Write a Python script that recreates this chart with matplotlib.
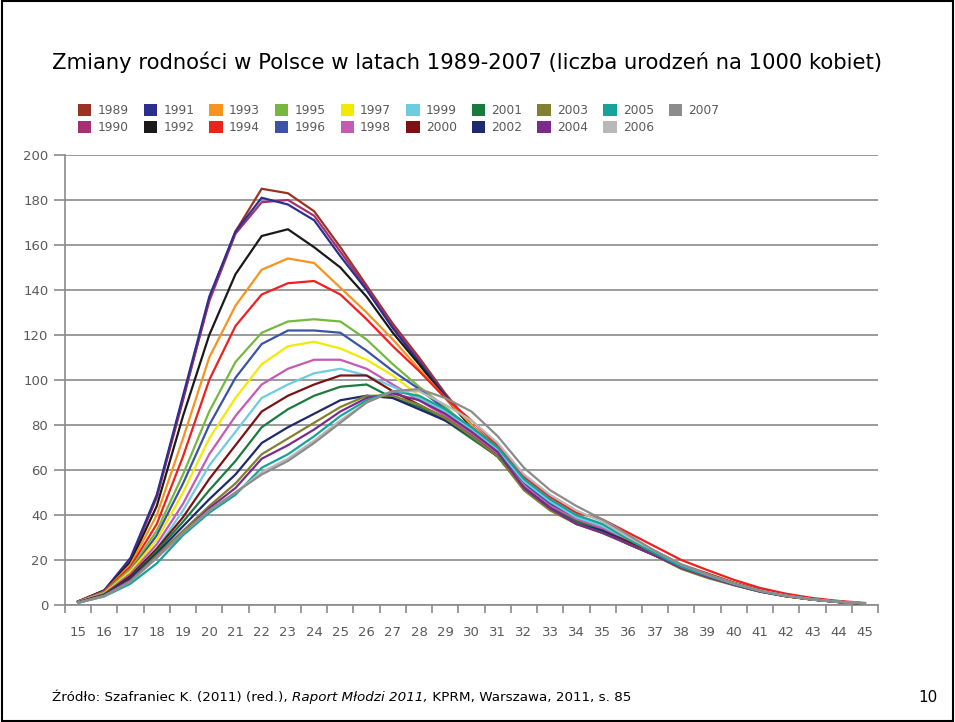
import matplotlib
matplotlib.use("Agg")
import matplotlib.pyplot as plt
from matplotlib.patches import Patch, Rectangle

ages = list(range(15, 46))
years = [1989, 1990, 1991, 1992, 1993, 1994, 1995, 1996, 1997, 1998,
         1999, 2000, 2001, 2002, 2003, 2004, 2005, 2006, 2007]
colors = ['#9b3322', '#a33070', '#2e2e8f', '#1a1a1a', '#f7931e', '#ee2020',
          '#76b83f', '#3a53a4', '#f2ea00', '#c45ab3', '#6ccde0', '#7a1216',
          '#1b7a3e', '#1f2a6e', '#808030', '#7a2b8b', '#15a39a', '#b8b8b8',
          '#8c8c8c']

# births per 1000 women, ages 15..45
y1989 = [1.6, 6.5, 20, 48, 91, 136, 166, 185, 183, 175, 159, 142, 125, 110, 94, 80, 70, 56, 46, 39, 35, 29, 24, 18, 14, 10, 6.8, 4.4, 2.7, 1.5, 0.7]
y1990 = [1.6, 6.5, 20, 48, 92, 135, 165, 179, 180, 173, 157, 141, 124, 109, 93, 80, 69, 55, 46, 39, 35, 29, 23, 17.5, 13.5, 9.7, 6.6, 4.3, 2.6, 1.5, 0.7]
y1991 = [1.5, 6.5, 21, 49, 93, 137, 166, 181, 178, 171, 155, 140, 123, 108, 93, 79, 69, 55, 45, 38, 34, 28, 23, 17, 13, 9.5, 6.4, 4.2, 2.6, 1.4, 0.7]
y1992 = [1.5, 6.3, 19, 44, 84, 120, 147, 164, 167, 159, 150, 137, 121, 107, 92, 79, 69, 55, 46, 39, 35, 29, 23, 17.5, 13.5, 9.7, 6.5, 4.2, 2.6, 1.4, 0.7]
y1993 = [1.5, 6.0, 18, 40, 74, 110, 133, 149, 154, 152, 141, 130, 118, 105, 92, 80, 69, 55, 46, 39, 35, 29, 23, 17.5, 13.5, 9.7, 6.5, 4.2, 2.6, 1.4, 0.7]
y1994 = [1.5, 6.0, 17, 36, 66, 100, 124, 138, 143, 144, 138, 127, 115, 104, 92, 82, 71, 57, 48, 41, 38, 32, 26, 20, 15.5, 11.2, 7.6, 5.0, 3.1, 1.8, 0.9]
y1995 = [1.4, 5.7, 16, 33, 58, 86, 108, 121, 126, 127, 126, 118, 107, 97, 88, 78, 68, 54, 45, 38, 34, 28, 22.5, 17, 13, 9.4, 6.3, 4.1, 2.5, 1.4, 0.7]
y1996 = [1.4, 5.5, 15, 31, 54, 80, 101, 116, 122, 122, 121, 113, 104, 96, 87, 78, 68, 54, 45, 38, 34, 28, 22.5, 17, 13, 9.4, 6.3, 4.1, 2.5, 1.4, 0.7]
y1997 = [1.3, 5.3, 15, 29, 50, 74, 92, 107, 115, 117, 114, 109, 102, 93, 85, 76, 66, 53, 43, 37, 33, 27, 22, 16.5, 12.5, 9.2, 6.1, 4.0, 2.5, 1.4, 0.7]
y1998 = [1.3, 5.0, 14, 27, 45, 67, 84, 98, 105, 109, 109, 105, 98, 91, 84, 76, 67, 53, 44, 38, 34, 28, 22.5, 17, 13, 9.3, 6.2, 4.0, 2.5, 1.4, 0.7]
y1999 = [1.2, 4.8, 13, 25, 42, 62, 77, 92, 98, 103, 105, 102, 97, 92, 86, 78, 69, 55, 46, 39, 35, 29, 23, 17.5, 13, 9.5, 6.3, 4.1, 2.5, 1.4, 0.7]
y2000 = [1.2, 4.7, 13, 25, 39, 56, 71, 86, 93, 98, 102, 102, 95, 89, 83, 75, 66, 52, 43, 37, 33, 28, 22, 16.5, 12.5, 9.1, 6.1, 3.9, 2.4, 1.3, 0.6]
y2001 = [1.1, 4.5, 12, 24, 37, 51, 64, 79, 87, 93, 97, 98, 92, 88, 82, 74, 66, 52, 43, 37, 33, 27, 22, 16.5, 12.5, 9.0, 6.0, 3.9, 2.4, 1.3, 0.6]
y2002 = [1.1, 4.4, 12, 23, 35, 47, 58, 72, 79, 85, 91, 93, 92, 87, 82, 75, 66, 52, 43, 36, 33, 27, 22, 16.5, 12.5, 9.0, 6.0, 3.9, 2.4, 1.3, 0.6]
y2003 = [1.0, 4.2, 11, 22, 33, 44, 54, 67, 74, 81, 88, 93, 93, 89, 83, 75, 66, 51, 42, 36, 32, 27, 22, 16, 12, 8.8, 5.9, 3.8, 2.4, 1.3, 0.6]
y2004 = [1.0, 4.1, 11, 21, 32, 43, 52, 65, 71, 78, 86, 92, 94, 91, 85, 77, 68, 52, 43, 36, 32, 27, 22, 16.5, 12.5, 9.0, 6.0, 3.9, 2.4, 1.3, 0.6]
y2005 = [1.0, 3.8, 9.5, 18.5, 31, 41, 49, 61, 67, 75, 84, 91, 95, 93, 87, 79, 70, 56, 47, 40, 36, 29, 23, 17, 13, 9.3, 6.2, 4.0, 2.5, 1.4, 0.7]
y2006 = [1.0, 4.0, 10.5, 21, 32, 42, 50, 59, 65, 73, 82, 90, 95, 95, 89, 82, 72, 58, 49, 42, 37, 30, 24, 18, 13.5, 9.6, 6.4, 4.1, 2.5, 1.4, 0.7]
y2007 = [1.0, 4.0, 10.5, 21, 32, 42, 50, 58, 64, 72, 81, 90, 95, 96, 92, 86, 75, 61, 51, 44, 38, 31, 24, 18, 13.5, 9.6, 6.4, 4.1, 2.5, 1.4, 0.7]

series = [y1989, y1990, y1991, y1992, y1993, y1994, y1995, y1996, y1997, y1998,
          y1999, y2000, y2001, y2002, y2003, y2004, y2005, y2006, y2007]

title = "Zmiany rodności w Polsce w latach 1989-2007 (liczba urodzeń na 1000 kobiet)"

fig = plt.figure(figsize=(9.55, 7.22), dpi=100)
ax = fig.add_axes([65/955, 1-605/722, 813/955, 450/722])

grid_c = '#8a8a8a'
txt_c = '#5a5a5a'

for yr, vals, c in zip(years, series, colors):
    ax.plot(ages, vals, color=c, lw=1.6, solid_joinstyle='miter', zorder=3)

ax.set_xlim(14.5, 45.5)
ax.set_ylim(0, 200)
ax.set_yticks(range(0, 201, 20))
ax.yaxis.grid(True, color=grid_c, lw=1.2, zorder=1)
ax.set_xticks(ages)
ax.set_xticks([a - 0.5 for a in ages] + [45.5], minor=True)
ax.tick_params(axis='x', which='major', length=0, pad=15, labelsize=9.5, labelcolor=txt_c)
ax.tick_params(axis='x', which='minor', length=6, width=1.2, color=grid_c, direction='out')
ax.tick_params(axis='y', length=8, width=1.2, color=grid_c, pad=4, labelsize=9.5, labelcolor=txt_c)
for s in ['top', 'right']:
    ax.spines[s].set_visible(False)
for s in ['left', 'bottom']:
    ax.spines[s].set_color(grid_c)
    ax.spines[s].set_linewidth(1.2)

handles = [Patch(facecolor=c, edgecolor='none') for c in colors]
leg = fig.legend(handles, [str(y) for y in years], ncol=10, loc='upper left',
                 bbox_to_anchor=(78/955, 1-104/722), frameon=False, fontsize=8.8,
                 handlelength=1.1, handleheight=1.1, handletextpad=0.5,
                 columnspacing=1.23, labelspacing=0.32, borderpad=0, borderaxespad=0)
for t in leg.get_texts():
    t.set_color(txt_c)

fig.text(467/955, 1-62/722, title, ha='center', va='center', fontsize=15.2, color='#000000')

# source line with italic title part
fig.canvas.draw()
r = fig.canvas.get_renderer()
x0 = 52/955
yb = 1-697/722
parts = [("Źródło: Szafraniec K. (2011) (red.), ", 'normal'),
         ("Raport Młodzi 2011,", 'italic'),
         (" KPRM, Warszawa, 2011, s. 85", 'normal')]
for s, st in parts:
    t = fig.text(x0, yb, s, ha='left', va='center', fontsize=9.7, style=st)
    bb = t.get_window_extent(renderer=r)
    x0 += bb.width / fig.bbox.width
fig.text(928/955, yb, "10", ha='center', va='center', fontsize=11)

fig.patches.append(Rectangle((0.002, 0.002), 0.996, 0.996, transform=fig.transFigure,
                             fill=False, edgecolor='black', lw=1.5))

fig.savefig("out.png", dpi=100)
